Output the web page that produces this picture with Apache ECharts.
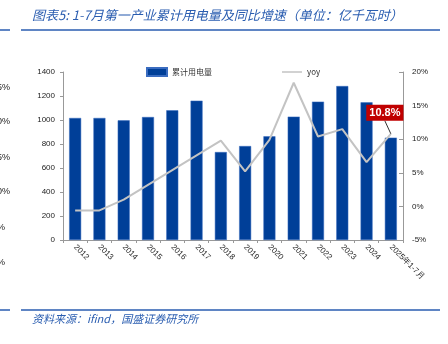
<!DOCTYPE html>
<html><head><meta charset="utf-8">
<script src="https://cdn.jsdelivr.net/npm/echarts@6/dist/echarts.min.js"></script>
<style>html,body{margin:0;padding:0;background:#fff}#c{width:448px;height:344px}</style>
</head><body><div id="c"></div>
<script>
var categories = ['2012','2013','2014','2015','2016','2017','2018','2019','2020','2021','2022','2023','2024','2025年1-7月'];
var usage = [1017, 1017, 997, 1025, 1081, 1161, 733, 783, 864, 1028, 1153, 1283, 1147, 853];
var yoy = [-0.6, -0.6, 1.0, 3.2, 5.4, 7.6, 9.8, 5.2, 9.9, 18.4, 10.4, 11.5, 6.6, 10.8];
var leftTicks = ['25%','20%','15%','10%','5%','0%'];
var titleText = '图表5: 1-7月第一产业累计用电量及同比增速（单位：亿千瓦时）';
var sourceText = '资料来源：ifind，国盛证券研究所';

var chart = echarts.init(document.getElementById('c'), null, {renderer:'canvas'});
var axisFont = {fontFamily:'Liberation Sans', fontSize:8, color:'#222'};
var leftGraphics = leftTicks.map(function(t, i){
  var ys = [88,122,158,192,228,263];
  return {type:'text', x: (i < 4 ? 10 : 5), y: ys[i],
    style:{text:t, font:'9px "Liberation Sans"', fill:'#222', textAlign:'right', textVerticalAlign:'middle'}};
});
var lineDefs = [
  {x1:0,x2:10,y:30},{x1:21,x2:440,y:30},{x1:0,x2:10,y:310},{x1:21,x2:440,y:310}
].map(function(l){
  return {type:'line', shape:{x1:l.x1,y1:l.y,x2:l.x2,y2:l.y}, style:{stroke:'#2a5db0', lineWidth:1.5}};
});
var yoyData = yoy.map(function(v, i){
  if (i === yoy.length - 1) {
    return {value: v, label:{show:true, formatter:'{c}%', position:'top', backgroundColor:'#c00000', color:'#fff',
      fontWeight:'bold', fontSize:11, fontFamily:'Liberation Sans', padding:[3,3,2,3]},
      labelLine:{show:true, lineStyle:{color:'#333', width:1}}};
  }
  return v;
});
chart.setOption({
  animation:false,
  backgroundColor:'#fff',
  graphic: [
    {type:'text', x:32, y:15, style:{text:titleText, font:'italic 13px "Noto Sans CJK SC"', fill:'#2a5db0', textVerticalAlign:'middle'}},
    {type:'text', x:32, y:319, style:{text:sourceText, font:'italic 11px "Noto Sans CJK SC"', fill:'#2a5db0', textVerticalAlign:'middle'}}
  ].concat(lineDefs).concat(leftGraphics),
  legend:{
    top:62, left:141, itemGap:70, itemWidth:20, itemHeight:8,
    textStyle:{fontSize:8, color:'#333', fontFamily:'Noto Sans CJK SC'},
    data:[{name:'累计用电量', icon:'rect'}, {name:'yoy', icon:'path://M0,0 L20,0 L20,1.5 L0,1.5 Z', itemStyle:{color:'#c3c3c3'}}]
  },
  grid:{left:63, right:45, top:72, height:168},
  xAxis:{
    type:'category', data:categories,
    axisLine:{lineStyle:{color:'#999'}},
    axisTick:{show:true, length:3, lineStyle:{color:'#999'}},
    axisLabel:Object.assign({rotate:-45, interval:0, margin:6}, axisFont)
  },
  yAxis:[
    {type:'value', min:0, max:1400, interval:200, splitLine:{show:false},
     axisLine:{show:true, lineStyle:{color:'#999'}}, axisTick:{show:true, length:3, lineStyle:{color:'#999'}},
     axisLabel:Object.assign({margin:8, formatter:function(v){return String(v);}}, axisFont)},
    {type:'value', min:-5, max:20, interval:5, splitLine:{show:false},
     axisLine:{show:true, lineStyle:{color:'#999'}}, axisTick:{show:true, inside:true, length:4, lineStyle:{color:'#999'}},
     axisLabel:Object.assign({margin:9, formatter:'{value}%'}, axisFont)}
  ],
  series:[
    {name:'累计用电量', type:'bar', data:usage, barWidth:12, yAxisIndex:0,
     itemStyle:{color:'#003f98', borderColor:'#3a6cc0', borderWidth:0.5}},
    {name:'yoy', type:'line', data:yoyData, yAxisIndex:1, symbol:'circle', symbolSize:0.01, showSymbol:true,
     lineStyle:{color:'#c3c3c3', width:2}, itemStyle:{color:'#c3c3c3'},
     labelLayout:{dx:-6, dy:-8}}
  ]
});
</script></body></html>
